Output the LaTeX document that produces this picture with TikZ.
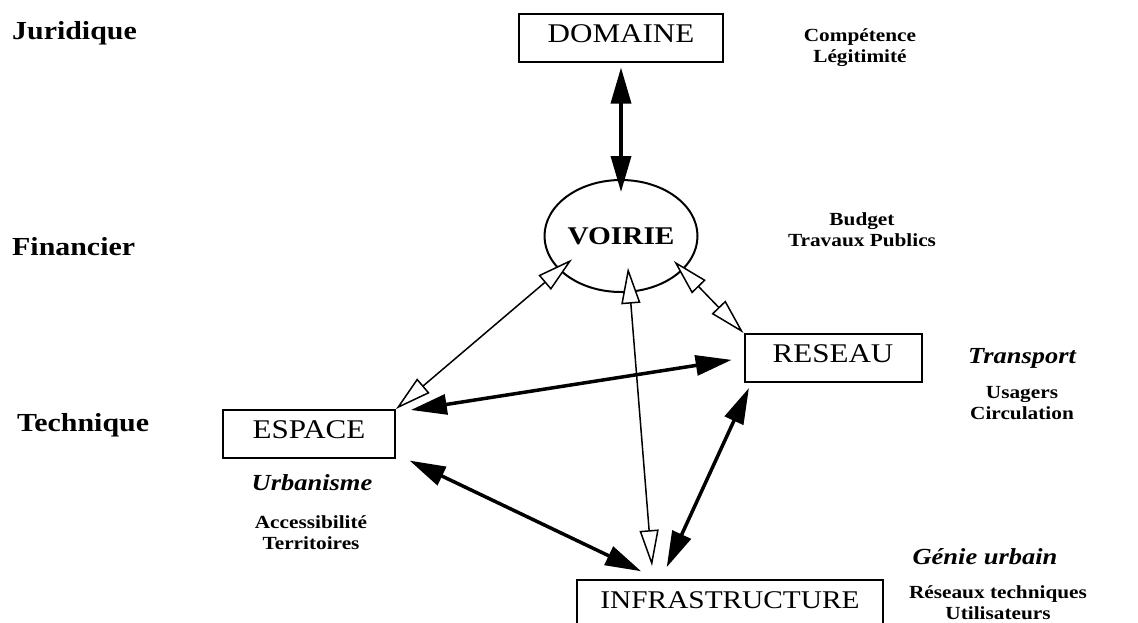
\documentclass[tikz,border=0pt]{standalone}
\usepackage{fontspec}
\setmainfont{Liberation Serif}[FakeStretch=1.15]
\usetikzlibrary{arrows.meta,shapes.geometric}

\tikzset{
    box/.style={rectangle,draw,line width=2pt,inner sep=0,minimum height=48pt,text depth=8pt,font=\fontsize{27}{30}\selectfont},
    ring/.style={ellipse,draw,line width=2pt,inner sep=0,minimum width=153pt,minimum height=112pt,font=\bfseries\fontsize{25.5}{28}\selectfont},
    level/.style={anchor=west,inner sep=0,font=\bfseries\fontsize{26}{28}\selectfont},
    field/.style={font=\bfseries\itshape\fontsize{23}{26}\selectfont},
    note/.style={align=center,font=\bfseries\fontsize{18.5}{21}\selectfont},
    strong/.style={line width=3.5pt,{Triangle[length=36pt,width=20pt]}-{Triangle[length=36pt,width=20pt]}},
    weak/.style={line width=1.5pt,{Triangle[length=36pt,width=19pt,fill=white]}-{Triangle[length=36pt,width=19pt,fill=white]}}
    }

\begin{document}
\begin{tikzpicture}[x=1pt,y=-1pt]
                \useasboundingbox (0,0) rectangle (1138,622);
                % The levels
                \node(juridique)[level] at (12,33) {Juridique};
                \node(financier)[level] at (12,247) {Financier};
                \node(technique)[level] at (17,425) {Technique};
                % The boxes
                \node(domaine)[box,minimum width=204pt] at (621,37.5) {DOMAINE};
                \node(voirie)[ring] at (621,236) {VOIRIE};
                \node(reseau)[box,minimum width=177pt] at (833,358) {RESEAU};
                \node(espace)[box,minimum width=172pt] at (309,434) {ESPACE};
                \node(infra)[box,minimum width=306pt,font=\fontsize{25.5}{30}\selectfont] at (730,604) {INFRASTRUCTURE};
                % The notes
                \node(competence)[note] at (860,47.5) {Compétence\\Légitimité};
                \node(budget)[note] at (862,229.5) {Budget\\Travaux Publics};
                \node(transport)[field] at (1022,358) {Transport};
                \node(usagers)[note] at (1022,403) {Usagers\\Circulation};
                \node(urbanisme)[field] at (312,483) {Urbanisme};
                \node(accessibilite)[note] at (311,532.5) {Accessibilité\\Territoires};
                \node(genie)[field] at (985,557) {Génie urbain};
                \node(reseaux)[note] at (998,603) {Réseaux techniques\\Utilisateurs};
                % The links
                \draw[strong,shorten <=5pt,shorten >=-13pt] (domaine.south) -- (voirie.north);
                \draw[weak,shorten >=-17pt] (espace.north east) -- (voirie.209);
                \draw[weak,shorten <=-13pt] (voirie.331) -- (reseau.north west);
                \draw[weak,shorten <=-25pt,shorten >=13pt] (voirie.279) -- (infra.162);
                \draw[strong,shorten <=15pt,shorten >=12pt] (espace.14) -- (reseau.west);
                \draw[strong,shorten <=15pt,shorten >=18pt] (espace.347) -- (infra.161);
                \draw[strong,shorten <=5.5pt,shorten >=13pt] (reseau.197) -- (infra.160);
\end{tikzpicture}
\end{document}
